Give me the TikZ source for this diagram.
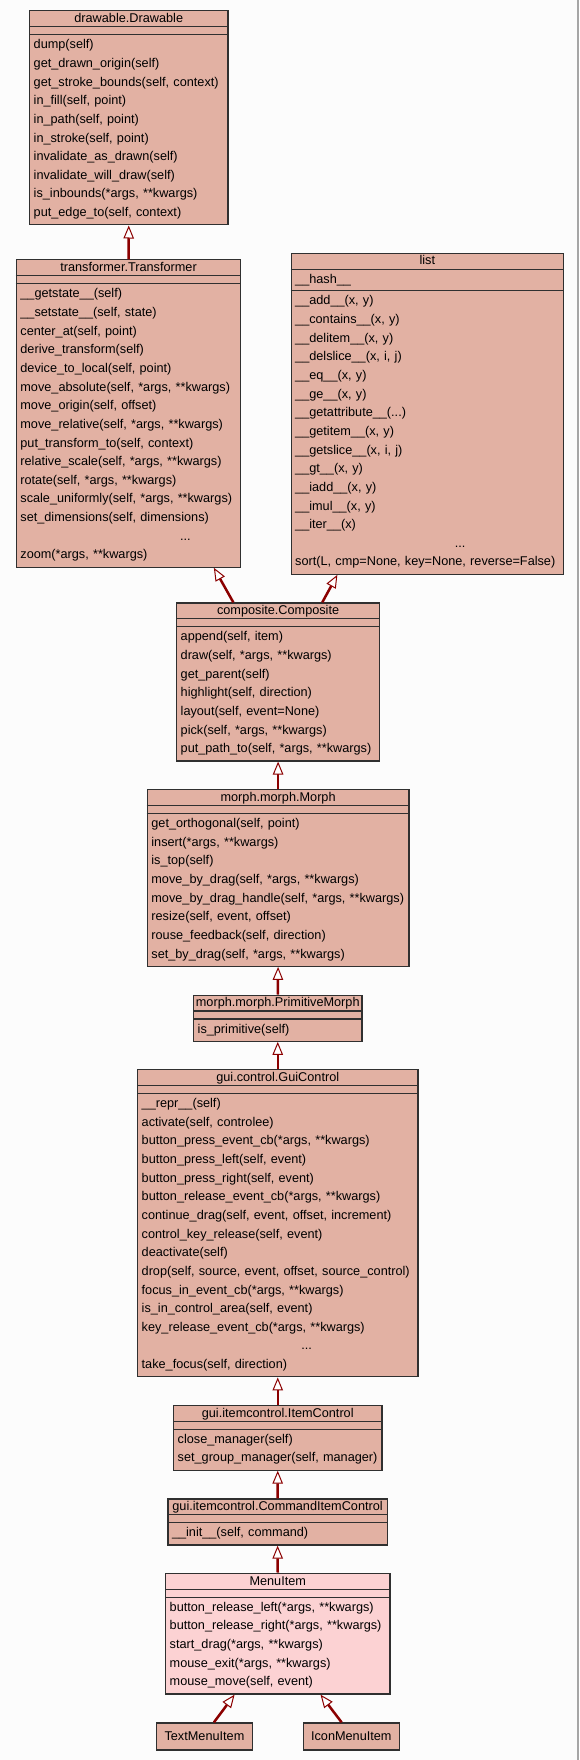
\documentclass[tikz,border=0pt]{standalone}
\usepackage{fontspec}
\setmainfont{Liberation Sans}
\usetikzlibrary{arrows.meta}
\definecolor{salmon}{HTML}{E2B1A3}
\definecolor{pinkish}{HTML}{FCD2D3}
\definecolor{darkred}{HTML}{8B0000}
\definecolor{edge}{HTML}{303030}
\begin{document}
\begin{tikzpicture}[x=1pt, y=-1pt, every node/.style={font=\fontsize{12.7}{18.65}\selectfont}]
  \tikzstyle{Class} = [draw=edge, fill=salmon, line width=1.2pt, anchor=north west, inner sep=0pt]
  \tikzstyle{Title} = [anchor=base, inner sep=0pt]
  \tikzstyle{Ops} = [anchor=base west, inner sep=0pt, align=left, text width=330pt]
  \tikzstyle{Sep} = [draw=edge, line width=1.2pt]
  \tikzstyle{Inherit} = [draw=darkred, line width=2.5pt, -{Triangle[open, fill=white, length=13pt, width=10.5pt, line width=1pt]}]
  \useasboundingbox[fill=white!99!black] (0,0) rectangle (579,1760);
  \draw[gray!70, line width=1.5pt] (578.2,0) -- (578.2,1760);

  % drawable
  \node[Class, minimum width=198.3pt, minimum height=214pt] (drawable) at (29,10.3) {};
  \node[Title] (drawable-t) at ([yshift=-12.3pt]drawable.north) {drawable.Drawable};
  \draw[Sep] ([yshift=-16.5pt]drawable.north west) -- ([yshift=-16.5pt]drawable.north east);
  \draw[Sep] ([yshift=-24.5pt]drawable.north west) -- ([yshift=-24.5pt]drawable.north east);
  \node[Ops] (drawable-m) at ([shift={(4.5pt,-38.5pt)}]drawable.north west) {dump(self)\\get\_drawn\_origin(self)\\get\_stroke\_bounds(self, context)\\in\_fill(self, point)\\in\_path(self, point)\\in\_stroke(self, point)\\invalidate\_as\_drawn(self)\\invalidate\_will\_draw(self)\\is\_inbounds(*args, **kwargs)\\put\_edge\_to(self, context)};

  % transformer
  \node[Class, minimum width=224.5pt, minimum height=307.25pt] (transformer) at (15.7,259.3) {};
  \node[Title] (transformer-t) at ([yshift=-12.3pt]transformer.north) {transformer.Transformer};
  \draw[Sep] ([yshift=-16.5pt]transformer.north west) -- ([yshift=-16.5pt]transformer.north east);
  \draw[Sep] ([yshift=-24.5pt]transformer.north west) -- ([yshift=-24.5pt]transformer.north east);
  \node[Ops] (transformer-m) at ([shift={(4.5pt,-38.5pt)}]transformer.north west) {\_\_getstate\_\_(self)\\\_\_setstate\_\_(self, state)\\center\_at(self, point)\\derive\_transform(self)\\device\_to\_local(self, point)\\move\_absolute(self, *args, **kwargs)\\move\_origin(self, offset)\\move\_relative(self, *args, **kwargs)\\put\_transform\_to(self, context)\\relative\_scale(self, *args, **kwargs)\\rotate(self, *args, **kwargs)\\scale\_uniformly(self, *args, **kwargs)\\set\_dimensions(self, dimensions)\\\hspace*{\fill}...\hspace*{\fill}\hspace*{114.5pt}\\zoom(*args, **kwargs)};

  % list
  \node[Class, minimum width=272.5pt, minimum height=320.9pt] (list) at (290.5,252.7) {};
  \node[Title] (list-t) at ([yshift=-12.3pt]list.north) {list};
  \draw[Sep] ([yshift=-16.5pt]list.north west) -- ([yshift=-16.5pt]list.north east);
  \node[Ops] (list-a) at ([shift={(4.5pt,-30.5pt)}]list.north west) {\_\_hash\_\_};
  \draw[Sep] ([yshift=-38.15pt]list.north west) -- ([yshift=-38.15pt]list.north east);
  \node[Ops] (list-m) at ([shift={(4.5pt,-52.15pt)}]list.north west) {\_\_add\_\_(x, y)\\\_\_contains\_\_(x, y)\\\_\_delitem\_\_(x, y)\\\_\_delslice\_\_(x, i, j)\\\_\_eq\_\_(x, y)\\\_\_ge\_\_(x, y)\\\_\_getattribute\_\_(...)\\\_\_getitem\_\_(x, y)\\\_\_getslice\_\_(x, i, j)\\\_\_gt\_\_(x, y)\\\_\_iadd\_\_(x, y)\\\_\_imul\_\_(x, y)\\\_\_iter\_\_(x)\\\hspace*{\fill}...\hspace*{\fill}\hspace*{66.5pt}\\sort(L, cmp=None, key=None, reverse=False)};

  % composite
  \node[Class, minimum width=203pt, minimum height=158.05pt] (composite) at (176,602.3) {};
  \node[Title] (composite-t) at ([yshift=-12.3pt]composite.north) {composite.Composite};
  \draw[Sep] ([yshift=-16.5pt]composite.north west) -- ([yshift=-16.5pt]composite.north east);
  \draw[Sep] ([yshift=-24.5pt]composite.north west) -- ([yshift=-24.5pt]composite.north east);
  \node[Ops] (composite-m) at ([shift={(4.5pt,-38.5pt)}]composite.north west) {append(self, item)\\draw(self, *args, **kwargs)\\get\_parent(self)\\highlight(self, direction)\\layout(self, event=None)\\pick(self, *args, **kwargs)\\put\_path\_to(self, *args, **kwargs)};

  % morph
  \node[Class, minimum width=261.6pt, minimum height=176.7pt] (morph) at (146.7,789) {};
  \node[Title] (morph-t) at ([yshift=-12.3pt]morph.north) {morph.morph.Morph};
  \draw[Sep] ([yshift=-16.5pt]morph.north west) -- ([yshift=-16.5pt]morph.north east);
  \draw[Sep] ([yshift=-24.5pt]morph.north west) -- ([yshift=-24.5pt]morph.north east);
  \node[Ops] (morph-m) at ([shift={(4.5pt,-38.5pt)}]morph.north west) {get\_orthogonal(self, point)\\insert(*args, **kwargs)\\is\_top(self)\\move\_by\_drag(self, *args, **kwargs)\\move\_by\_drag\_handle(self, *args, **kwargs)\\resize(self, event, offset)\\rouse\_feedback(self, direction)\\set\_by\_drag(self, *args, **kwargs)};

  % primitive morph
  \node[Class, minimum width=168.3pt, minimum height=46.15pt] (primitive) at (193,994.5) {};
  \node[Title] (primitive-t) at ([yshift=-12.3pt]primitive.north) {morph.morph.PrimitiveMorph};
  \draw[Sep] ([yshift=-16.5pt]primitive.north west) -- ([yshift=-16.5pt]primitive.north east);
  \draw[Sep] ([yshift=-24.5pt]primitive.north west) -- ([yshift=-24.5pt]primitive.north east);
  \node[Ops] (primitive-m) at ([shift={(4.5pt,-38.5pt)}]primitive.north west) {is\_primitive(self)};

  % gui control
  \node[Class, minimum width=280.3pt, minimum height=307.25pt] (guicontrol) at (137,1069) {};
  \node[Title] (guicontrol-t) at ([yshift=-12.3pt]guicontrol.north) {gui.control.GuiControl};
  \draw[Sep] ([yshift=-16.5pt]guicontrol.north west) -- ([yshift=-16.5pt]guicontrol.north east);
  \draw[Sep] ([yshift=-24.5pt]guicontrol.north west) -- ([yshift=-24.5pt]guicontrol.north east);
  \node[Ops] (guicontrol-m) at ([shift={(4.5pt,-38.5pt)}]guicontrol.north west) {\_\_repr\_\_(self)\\activate(self, controlee)\\button\_press\_event\_cb(*args, **kwargs)\\button\_press\_left(self, event)\\button\_press\_right(self, event)\\button\_release\_event\_cb(*args, **kwargs)\\continue\_drag(self, event, offset, increment)\\control\_key\_release(self, event)\\deactivate(self)\\drop(self, source, event, offset, source\_control)\\focus\_in\_event\_cb(*args, **kwargs)\\is\_in\_control\_area(self, event)\\key\_release\_event\_cb(*args, **kwargs)\\\hspace*{\fill}...\hspace*{\fill}\hspace*{58.7pt}\\take\_focus(self, direction)};

  % item control
  \node[Class, minimum width=208.3pt, minimum height=64.8pt] (itemcontrol) at (173,1404.7) {};
  \node[Title] (itemcontrol-t) at ([yshift=-12.3pt]itemcontrol.north) {gui.itemcontrol.ItemControl};
  \draw[Sep] ([yshift=-16.5pt]itemcontrol.north west) -- ([yshift=-16.5pt]itemcontrol.north east);
  \draw[Sep] ([yshift=-24.5pt]itemcontrol.north west) -- ([yshift=-24.5pt]itemcontrol.north east);
  \node[Ops] (itemcontrol-m) at ([shift={(4.5pt,-38.5pt)}]itemcontrol.north west) {close\_manager(self)\\set\_group\_manager(self, manager)};

  % command item control
  \node[Class, minimum width=219.4pt, minimum height=46.15pt] (command) at (167.3,1498.3) {};
  \node[Title] (command-t) at ([yshift=-12.3pt]command.north) {gui.itemcontrol.CommandItemControl};
  \draw[Sep] ([yshift=-16.5pt]command.north west) -- ([yshift=-16.5pt]command.north east);
  \draw[Sep] ([yshift=-24.5pt]command.north west) -- ([yshift=-24.5pt]command.north east);
  \node[Ops] (command-m) at ([shift={(4.5pt,-38.5pt)}]command.north west) {\_\_init\_\_(self, command)};

  % menu item
  \node[Class, fill=pinkish, minimum width=224.3pt, minimum height=120.75pt] (menuitem) at (165,1572.7) {};
  \node[Title] (menuitem-t) at ([yshift=-12.3pt]menuitem.north) {MenuItem};
  \draw[Sep] ([yshift=-16.5pt]menuitem.north west) -- ([yshift=-16.5pt]menuitem.north east);
  \draw[Sep] ([yshift=-24.5pt]menuitem.north west) -- ([yshift=-24.5pt]menuitem.north east);
  \node[Ops] (menuitem-m) at ([shift={(4.5pt,-38.5pt)}]menuitem.north west) {button\_release\_left(*args, **kwargs)\\button\_release\_right(*args, **kwargs)\\start\_drag(*args, **kwargs)\\mouse\_exit(*args, **kwargs)\\mouse\_move(self, event)};

  % leaves
  \node[Class, minimum width=96.3pt, minimum height=27pt] (textmenu) at (155.7,1722.3) {TextMenuItem};
  \node[Class, minimum width=96pt, minimum height=27pt] (iconmenu) at (302.7,1722.3) {IconMenuItem};

  % inheritance
  \draw[Inherit] (transformer.north) -- (drawable.south);
  \draw[Inherit] ([xshift=-44.8pt]composite.north) -- ([xshift=85.3pt]transformer.south);
  \draw[Inherit] ([xshift=44.2pt]composite.north) -- ([xshift=-90pt]list.south);
  \draw[Inherit] (morph.north) -- (composite.south);
  \draw[Inherit] (primitive.north) -- (morph.south);
  \draw[Inherit] (guicontrol.north) -- (primitive.south);
  \draw[Inherit] (itemcontrol.north) -- (guicontrol.south);
  \draw[Inherit] (command.north) -- (itemcontrol.south);
  \draw[Inherit] (menuitem.north) -- (command.south);
  \draw[Inherit] ([xshift=9.5pt]textmenu.north) -- ([xshift=-43.2pt]menuitem.south);
  \draw[Inherit] ([xshift=-9.7pt]iconmenu.north) -- ([xshift=42.8pt]menuitem.south);
\end{tikzpicture}
\end{document}
